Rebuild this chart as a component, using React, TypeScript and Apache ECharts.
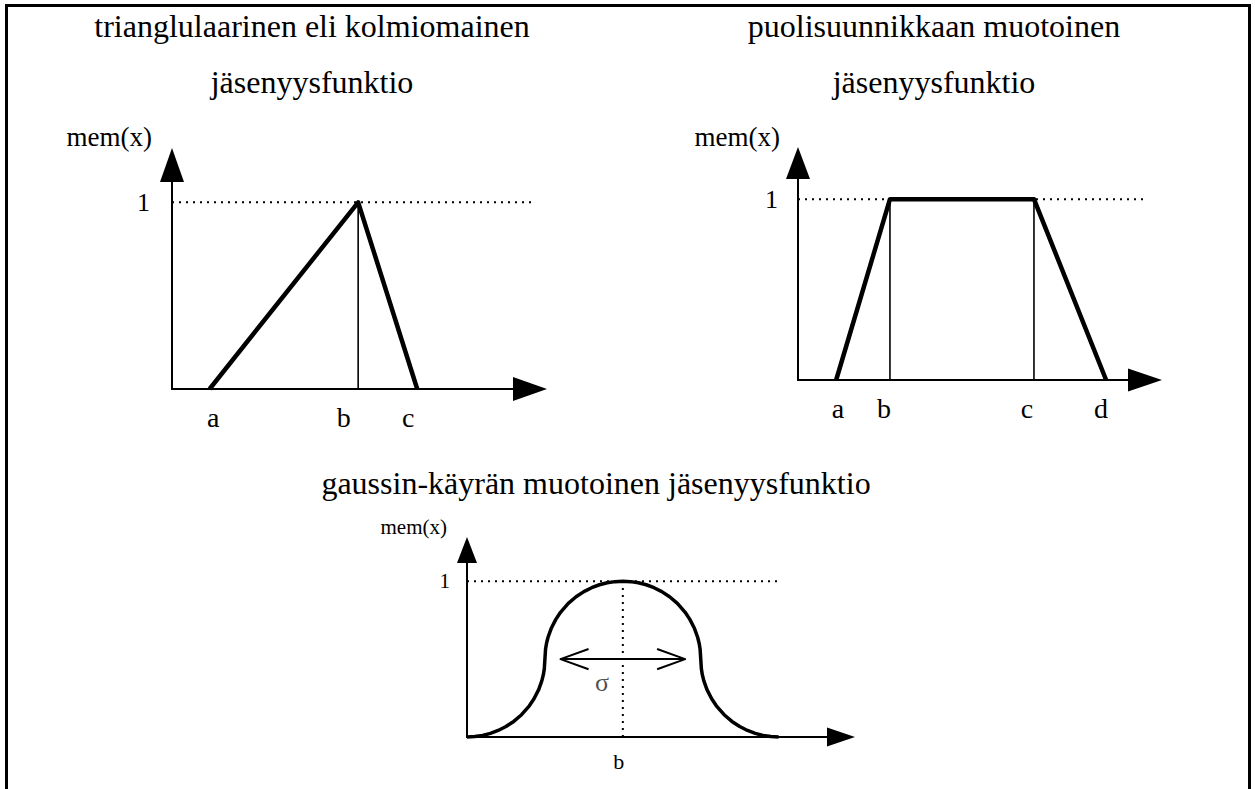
import React, { useEffect, useRef } from "react";
import * as echarts from "echarts";

// ---------- titles ----------
const titleTri = ["trianglulaarinen eli kolmiomainen", "jäsenyysfunktio"];
const titleTrap = ["puolisuunnikkaan muotoinen", "jäsenyysfunktio"];
const titleGauss = ["gaussin-käyrän muotoinen jäsenyysfunktio"];
const yName = "mem(x)";

// ---------- triangular membership ----------
const triX = [1.05, 5.2, 6.85];
const triY = [0, 1, 0];
const triTickValues = [1.15, 4.8, 6.6];
const triTickLabels = ["a", "b", "c"];
const triDottedEnd = 10.4;

// ---------- trapezoidal membership ----------
const trapX = [1.1, 2.65, 6.8, 8.88];
const trapY = [0, 1, 1, 0];
const trapTickValues = [1.15, 2.48, 6.6, 8.73];
const trapTickLabels = ["a", "b", "c", "d"];
const trapDottedEnd = 10.43;

// ---------- gaussian membership ----------
const gaussX = [
  0, 0.25, 0.5, 0.75, 1.0, 1.25, 1.5, 1.75, 2.0, 2.15, 2.3, 2.4, 2.45, 2.48, 2.5,
  2.52, 2.55, 2.6, 2.7, 2.85, 3.0, 3.25, 3.5, 3.75, 4.0, 4.25, 4.5, 4.75, 5.0,
  5.25, 5.5, 5.75, 6.0, 6.25, 6.5, 6.75, 7.0, 7.15, 7.3, 7.4, 7.45, 7.48,
  7.5, 7.52, 7.55, 7.6, 7.7, 7.85, 8.0, 8.25, 8.5, 8.75, 9.0, 9.25, 9.5, 9.75, 10.0,
];
const gaussY = [
  0, 0.003, 0.01, 0.023, 0.042, 0.067, 0.1, 0.143, 0.2, 0.245, 0.304, 0.36, 0.4, 0.437, 0.5,
  0.563, 0.6, 0.64, 0.696, 0.755, 0.8, 0.857, 0.9, 0.933, 0.958, 0.977, 0.99, 0.997, 1,
  0.997, 0.99, 0.977, 0.958, 0.933, 0.9, 0.857, 0.8, 0.755, 0.696, 0.64, 0.6, 0.563,
  0.5, 0.437, 0.4, 0.36, 0.304, 0.245, 0.2, 0.143, 0.1, 0.067, 0.042, 0.023, 0.01, 0.003, 0,
];
const gaussCenter = 5;
const gaussDottedEnd = 10;
const gaussTickValues = [4.87];
const gaussTickLabels = ["b"];
const sigmaLineX = [3, 7];
const sigmaLineY = [0.5, 0.5];
const sigmaLeftHeadX = [3.9, 3, 3.9];
const sigmaRightHeadX = [6.1, 7, 6.1];
const sigmaHeadY = [0.565, 0.5, 0.435];
const sigmaLabel = { x: 4.33, y: 0.35, text: "σ" };

const SERIF = '"Liberation Serif", "Times New Roman", serif';

const pairs = (xs: number[], ys: number[]) => xs.map((x, i) => [x, ys[i]]);

function lineSeries(data: number[][], idx: number, width: number, dotted = false, extra: any = {}) {
  return {
    type: "line",
    xAxisIndex: idx,
    yAxisIndex: idx,
    data,
    symbol: "none",
    clip: false,
    silent: true,
    lineStyle: {
      color: "#000",
      width,
      type: dotted ? [2, 5] : "solid",
      cap: "butt",
      join: "round",
    },
    ...extra,
  };
}

function pickLabel(ticks: number[], labels: string[]) {
  return (v: number) => {
    const k = ticks.findIndex((t) => Math.abs(t - v) < 1e-6);
    return k >= 0 ? labels[k] : "";
  };
}

function makeXAxis(idx: number, max: number, ticks: number[], labels: string[], arrow: number[], fontSize: number, margin: number) {
  return {
    type: "value",
    gridIndex: idx,
    min: 0,
    max,
    axisLine: {
      show: true,
      onZero: false,
      symbol: ["none", "triangle"],
      symbolSize: arrow,
      lineStyle: { color: "#000", width: 2 },
    },
    axisTick: { show: false },
    splitLine: { show: false },
    axisLabel: {
      show: true,
      customValues: ticks,
      formatter: pickLabel(ticks, labels),
      showMinLabel: true,
      showMaxLabel: true,
      hideOverlap: false,
      color: "#000",
      fontFamily: SERIF,
      fontSize,
      margin,
    },
  };
}

function makeYAxis(idx: number, arrow: number[], fontSize: number, margin: number, padTop: number, nameSize: number, nameGap: number, namePad: number) {
  return {
    type: "value",
    gridIndex: idx,
    min: 0,
    max: 1.2,
    name: yName,
    nameLocation: "end",
    nameGap,
    nameTextStyle: {
      color: "#000",
      fontFamily: SERIF,
      fontSize: nameSize,
      align: "right",
      verticalAlign: "middle",
      padding: [0, namePad, 0, 0],
    },
    axisLine: {
      show: true,
      onZero: false,
      symbol: ["none", "triangle"],
      symbolSize: arrow,
      lineStyle: { color: "#000", width: 2 },
    },
    axisTick: { show: false },
    splitLine: { show: false },
    axisLabel: {
      customValues: [1],
      formatter: () => "1",
      color: "#000",
      fontFamily: SERIF,
      fontSize,
      margin,
      padding: [padTop, 0, 0, 0],
    },
  };
}

function titleText(text: string, x: number, baseline: number, size: number) {
  return {
    type: "text",
    x,
    y: baseline - size * 0.34,
    silent: true,
    style: {
      text,
      fill: "#000",
      font: `${size}px ${SERIF}`,
      align: "center",
      verticalAlign: "middle",
    },
  };
}

export default function App() {
  const ref = useRef<HTMLDivElement>(null);

  useEffect(() => {
    if (!ref.current) return;
    const chart = echarts.init(ref.current, undefined, { renderer: "svg" });
    const option: any = {
      animation: false,
      backgroundColor: "#fff",
      graphic: [
        {
          type: "rect",
          silent: true,
          z: -10,
          shape: { x: 6.5, y: 5.5, width: 1243, height: 1000 },
          style: { fill: "none", stroke: "#000", lineWidth: 3 },
        },
        titleText(titleTri[0], 312, 37, 32),
        titleText(titleTri[1], 312, 93, 32),
        titleText(titleTrap[0], 934, 37, 32),
        titleText(titleTrap[1], 934, 93, 32),
        titleText(titleGauss[0], 596, 494, 32),
      ],
      grid: [
        { left: 172, top: 165, width: 358, height: 224, outerBoundsMode: "none", containLabel: false },
        { left: 798, top: 163, width: 347, height: 217, outerBoundsMode: "none", containLabel: false },
        { left: 467, top: 550, width: 374, height: 187, outerBoundsMode: "none", containLabel: false },
      ],
      xAxis: [
        makeXAxis(0, 10, triTickValues, triTickLabels, [24, 34], 28, 14),
        makeXAxis(1, 10, trapTickValues, trapTickLabels, [23, 34], 28, 14),
        makeXAxis(2, 12, gaussTickValues, gaussTickLabels, [19, 28], 22, 13),
      ],
      yAxis: [
        makeYAxis(0, [24, 34], 26, 22, 14, 27, 28, 20),
        makeYAxis(1, [24, 32], 26, 20, 14, 27, 26, 18),
        makeYAxis(2, [20, 26], 21, 17, 10, 21, 23, 20),
      ],
      series: [
        // triangle
        lineSeries([[0, 1], [triDottedEnd, 1]], 0, 2, true),
        lineSeries([[triX[1], 0], [triX[1], 1]], 0, 1.6),
        lineSeries(pairs(triX, triY), 0, 4.5),
        // trapezoid
        lineSeries([[0, 1], [trapDottedEnd, 1]], 1, 2, true),
        lineSeries([[trapX[1], 0], [trapX[1], 1]], 1, 1.6),
        lineSeries([[trapX[2], 0], [trapX[2], 1]], 1, 1.6),
        lineSeries(pairs(trapX, trapY), 1, 4.5),
        // gaussian
        lineSeries([[0, 1], [gaussDottedEnd, 1]], 2, 2, true),
        lineSeries([[gaussCenter, 0], [gaussCenter, 1]], 2, 2, true),
        lineSeries(pairs(sigmaLineX, sigmaLineY), 2, 2),
        lineSeries(pairs(sigmaLeftHeadX, sigmaHeadY), 2, 2),
        lineSeries(pairs(sigmaRightHeadX, sigmaHeadY), 2, 2),
        lineSeries(pairs(gaussX, gaussY), 2, 3.5),
        {
          type: "scatter",
          xAxisIndex: 2,
          yAxisIndex: 2,
          silent: true,
          symbolSize: 1,
          itemStyle: { color: "rgba(0,0,0,0)" },
          data: [[sigmaLabel.x, sigmaLabel.y]],
          label: {
            show: true,
            position: "inside",
            formatter: sigmaLabel.text,
            color: "#222",
            fontFamily: SERIF,
            fontSize: 26,
          },
        },
      ],
    };
    chart.setOption(option);
    return () => chart.dispose();
  }, []);

  return (
    <div
      ref={ref}
      style={{ position: "absolute", left: 0, top: 0, width: 1255, height: 789, background: "#fff" }}
    />
  );
}
